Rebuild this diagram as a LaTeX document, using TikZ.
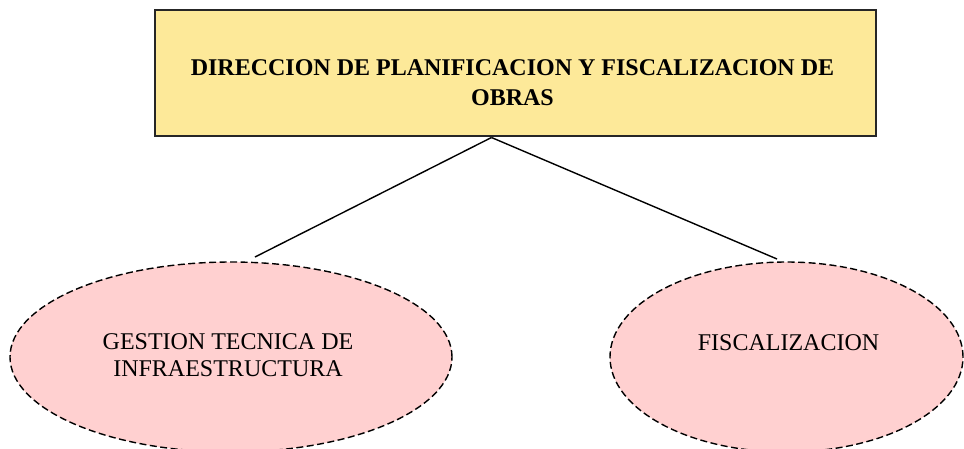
\documentclass[tikz,border=0pt]{standalone}
\usepackage{fontspec}
\setmainfont{Liberation Serif}
\usetikzlibrary{shapes.geometric}
\definecolor{boxyellow}{RGB}{253,233,153}
\definecolor{ellpink}{RGB}{255,208,208}
\tikzset{
  titlebox/.style={draw=black!85, line width=1.6pt, fill=boxyellow, minimum width=721pt, minimum height=126pt, inner sep=0pt},
  unitell/.style={ellipse, draw=black, line width=1.4pt, dash pattern=on 7pt off 3.5pt, fill=ellpink, inner sep=0pt},
  conn/.style={line width=1.4pt, black}
}
\begin{document}
\begin{tikzpicture}[x=1pt,y=1pt]
\useasboundingbox (0,0) rectangle (964,-448);
\clip (0,0) rectangle (964,-448);
\node[titlebox] (dir) at (515.5,-73) {};
\node[font=\bfseries\fontsize{24}{30}\selectfont, align=center, inner sep=0pt] (dirtext) at (512.5,-83) {DIRECCION DE PLANIFICACION Y FISCALIZACION DE\\OBRAS};
\node[unitell, minimum width=442pt, minimum height=190pt] (gti) at (231,-357) {};
\node[font=\fontsize{24}{27}\selectfont, align=center, inner sep=0pt] (gtitext) at (228,-355) {GESTION TECNICA DE\\INFRAESTRUCTURA};
\node[unitell, minimum width=353pt, minimum height=190pt] (fis) at (786.5,-357) {};
\node[font=\fontsize{24}{27}\selectfont, inner sep=0pt] (fistext) at (788.5,-343) {FISCALIZACION};
\coordinate (top) at (491.5,-137.5);
\coordinate (lend) at (255,-257);
\coordinate (rend) at (777,-259);
\draw[conn] (top) -- (lend);
\draw[conn] (top) -- (rend);
\end{tikzpicture}
\end{document}
